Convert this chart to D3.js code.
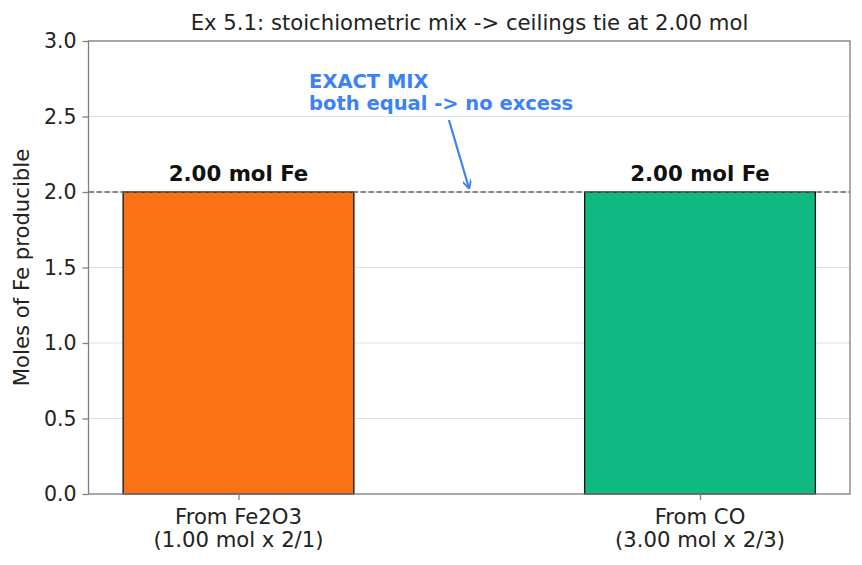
<!DOCTYPE html>
<html><head><meta charset="utf-8">
<script src="https://cdn.jsdelivr.net/npm/d3@7/dist/d3.min.js"></script>
<style>body{margin:0;background:#fff;}text{font-family:"DejaVu Sans",sans-serif;}</style>
</head><body>
<svg id="c" width="862" height="565"></svg>
<script>
const categories = ["From Fe2O3\n(1.00 mol x 2/1)", "From CO\n(3.00 mol x 2/3)"];
const values = [2.00, 2.00];
const barLabels = ["2.00 mol Fe", "2.00 mol Fe"];
const colors = ["#f97316", "#10b981"];
const yTicks = [0, 0.5, 1.0, 1.5, 2.0, 2.5, 3.0];
const tieValue = 2.00;
const title = "Ex 5.1: stoichiometric mix -> ceilings tie at 2.00 mol";
const yLabel = "Moles of Fe producible";
const annotLines = ["EXACT MIX", "both equal -> no excess"];

const svg = d3.select("#c");
const m = {l:88.5, r:850, t:41, b:494};
const x = d3.scaleLinear().domain([-0.325, 1.325]).range([m.l, m.r]);
const y = d3.scaleLinear().domain([0, 3]).range([m.b, m.t]);
const bw = 0.5;

// grid
svg.append("g").selectAll("line").data(yTicks).join("line")
  .attr("x1", m.l).attr("x2", m.r).attr("y1", d=>y(d)).attr("y2", d=>y(d))
  .attr("stroke", "#d9d9d9").attr("stroke-width", 0.8);

// bars
svg.append("g").selectAll("rect").data(values).join("rect")
  .attr("x", (d,i)=>x(i-bw/2)).attr("width", x(bw)-x(0))
  .attr("y", d=>y(d)).attr("height", d=>y(0)-y(d))
  .attr("fill", (d,i)=>colors[i]).attr("stroke", "#111").attr("stroke-width", 1.3);

// dashed tie line
svg.append("line").attr("x1", m.l).attr("x2", m.r).attr("y1", y(tieValue)).attr("y2", y(tieValue))
  .attr("stroke", "#666").attr("stroke-width", 1.4).attr("stroke-dasharray", "5.5,2.5");

// bar labels
svg.append("g").selectAll("text").data(values).join("text")
  .attr("x", (d,i)=>x(i)).attr("y", d=>y(d)-11.5)
  .attr("text-anchor", "middle").attr("font-size", 21.3).attr("font-weight", "bold").attr("fill", "#111")
  .text((d,i)=>barLabels[i]);

// spines
const sp = svg.append("g").attr("stroke", "#808080").attr("stroke-width", 1.3).attr("fill","none");
sp.append("rect").attr("x", m.l).attr("y", m.t).attr("width", m.r-m.l).attr("height", m.b-m.t);

// y axis
const ya = svg.append("g").attr("transform", `translate(${m.l},0)`)
  .call(d3.axisLeft(y).tickValues(yTicks).tickFormat(d3.format(".1f")).tickSize(6).tickPadding(6));
ya.select(".domain").remove();
ya.selectAll("line").attr("stroke", "#808080").attr("stroke-width", 1.3);
ya.selectAll("text").attr("font-size", 20.5).attr("fill", "#222").attr("font-family", "DejaVu Sans");

// x axis
const xa = svg.append("g").attr("transform", `translate(0,${m.b})`)
  .call(d3.axisBottom(x).tickValues([0,1]).tickFormat("").tickSize(6));
xa.select(".domain").remove();
xa.selectAll("line").attr("stroke", "#808080").attr("stroke-width", 1.3);
categories.forEach((c,i)=>{
  const t = svg.append("text").attr("x", x(i)).attr("y", m.b+29.5).attr("text-anchor","middle")
    .attr("font-size", 21.2).attr("fill", "#222");
  c.split("\n").forEach((ln,j)=>t.append("tspan").attr("x", x(i)).attr("dy", j? 23.5:0).text(ln));
});

// y label
svg.append("text").attr("transform", `translate(29,${(m.t+m.b)/2}) rotate(-90)`)
  .attr("text-anchor","middle").attr("font-size", 21.2).attr("fill","#222").text(yLabel);

// title
svg.append("text").attr("x", 469.5).attr("y", 30).attr("text-anchor","middle")
  .attr("font-size", 21.2).attr("fill","#222").text(title);

// annotation
const blue = "#3b82f6";
const at = svg.append("text").attr("x", x(0.153)).attr("y", 88).attr("font-size", 19.5)
  .attr("font-weight","bold").attr("fill", blue);
annotLines.forEach((ln,j)=>at.append("tspan").attr("x", x(0.153)).attr("dy", j?22:0).text(ln));

svg.append("defs").append("marker").attr("id","ah").attr("viewBox","0 0 10 10")
  .attr("refX",10).attr("refY",5).attr("markerWidth",9).attr("markerHeight",9).attr("orient","auto")
  .attr("markerUnits","userSpaceOnUse").append("path").attr("d","M0,0 L10,5 L0,10").attr("fill","none")
  .attr("stroke", blue).attr("stroke-width",2);
const ax0 = x(0.456), ay0 = 120, ax1 = x(0.5), ay1 = y(2.02);
svg.append("line").attr("x1",ax0).attr("y1",ay0).attr("x2",ax1).attr("y2",ay1)
  .attr("stroke", blue).attr("stroke-width", 2.2).attr("marker-end","url(#ah)");
</script>
</body></html>
